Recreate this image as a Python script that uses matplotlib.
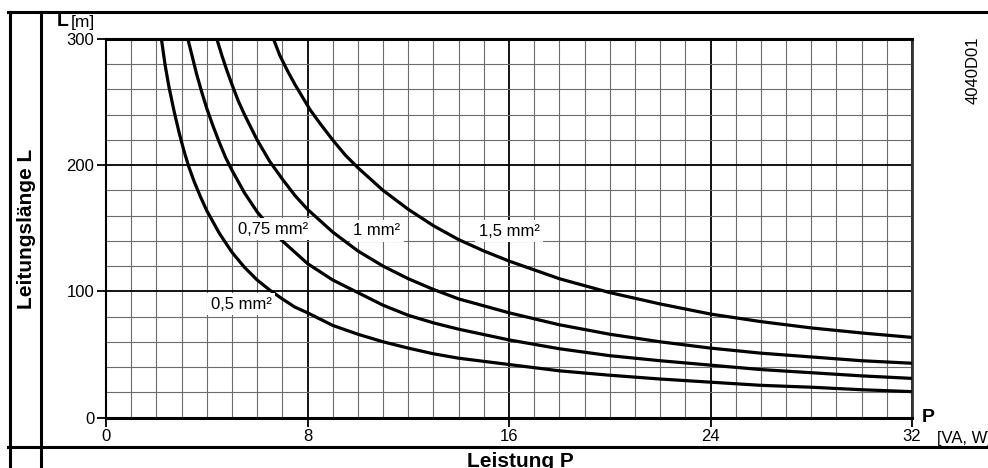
import matplotlib
matplotlib.use('Agg')
import matplotlib.pyplot as plt
from matplotlib.lines import Line2D
from matplotlib.ticker import MultipleLocator

plt.rcParams['font.family'] = ['Liberation Sans', 'DejaVu Sans']

# ---- data ----
p_05 = [2.2, 2.35, 2.5, 2.7, 2.9, 3.1, 3.3, 3.5, 3.75, 4.0, 4.5, 5.0, 5.5, 6.0, 6.5, 7.0,
        7.5, 8, 9, 10, 11, 12, 13, 14, 16, 18, 20, 22, 24, 26, 28, 30, 32]
l_05 = [300, 279, 262, 243, 226, 211, 198, 187, 175, 164, 146, 131, 119, 109, 101, 94,
        87.5, 83, 73, 66, 60, 55, 50.5, 47, 42, 37, 33.5, 30.5, 28, 25.5, 24, 22, 20.5]

p_075 = [3.25, 3.4, 3.6, 3.8, 4.0, 4.25, 4.5, 4.75, 5.0, 5.5, 6.0, 6.5, 7, 7.5, 8, 9, 10,
         11, 12, 13, 14, 16, 18, 20, 22, 24, 26, 28, 30, 32]
l_075 = [300, 288, 272, 258, 245, 231, 218, 206, 196, 178, 163, 151, 140, 131, 122, 109, 99,
         89, 81, 75, 70, 61.5, 54.5, 49, 45, 41.5, 38, 35.5, 33, 31]

p_1 = [4.4, 4.6, 4.8, 5.0, 5.25, 5.5, 5.75, 6.0, 6.5, 7, 7.5, 8, 9, 10, 11, 12, 13, 14,
       16, 18, 20, 22, 24, 26, 28, 30, 32]
l_1 = [300, 287, 275, 264, 251, 240, 230, 220, 203, 189, 176, 165, 147, 132, 120, 110, 101.5, 94,
       83, 73.5, 66, 60, 55, 51, 48, 45, 43]

p_15 = [6.65, 6.9, 7.2, 7.5, 7.8, 8.1, 8.5, 9, 9.5, 10, 11, 12, 13, 14, 15, 16, 18, 20,
        22, 24, 26, 28, 30, 32]
l_15 = [300, 287, 275, 264, 254, 244, 233, 220, 208, 198, 180, 165, 152, 141, 132, 124, 110, 99,
        90, 82, 76, 71, 67, 63.5]

curve_labels = ['0,5 mm²', '0,75 mm²', '1 mm²', '1,5 mm²']
label_p = [5.37, 6.65, 10.75, 16.0]
label_l = [89.6, 149.4, 148.0, 147.8]

x_ticks = [0, 8, 16, 24, 32]
x_ticklabels = ['0', '8', '16', '24', '32']
y_ticks = [0, 100, 200, 300]
y_ticklabels = ['0', '100', '200', '300']

W, H = 988, 468
fig = plt.figure(figsize=(W / 100, H / 100), dpi=100)


def fx(px):
    return px / W


def fy(py):
    return 1 - py / H


ax = fig.add_axes([fx(106), fy(417.5), fx(912) - fx(106), fy(39) - fy(417.5)])
ax.set_xlim(0, 32)
ax.set_ylim(0, 300)

# grid
ax.xaxis.set_minor_locator(MultipleLocator(1))
ax.yaxis.set_minor_locator(MultipleLocator(20))
ax.grid(which='minor', color='#6c6c6c', lw=0.8, zorder=0)
ax.grid(which='major', color='black', lw=1.3, zorder=0)
ax.set_axisbelow(True)
ax.tick_params(which='minor', length=0)

ax.set_xticks(x_ticks)
ax.set_xticklabels(x_ticklabels)
ax.set_yticks(y_ticks)
ax.set_yticklabels(y_ticklabels)
ax.tick_params(axis='x', which='major', direction='out', length=6.5, width=1.3,
               labelsize=12, pad=1.5)
ax.tick_params(axis='y', which='major', direction='out', length=6.5, width=1.3,
               labelsize=12, pad=2)

for side, lw, col in [('left', 1.5, 'black'), ('bottom', 2.2, 'black'),
                      ('top', 2.2, 'black'), ('right', 2.0, '#333333')]:
    ax.spines[side].set_linewidth(lw)
    ax.spines[side].set_color(col)

# curves
for p, l in [(p_05, l_05), (p_075, l_075), (p_1, l_1), (p_15, l_15)]:
    ax.plot(p, l, color='black', lw=2.3, solid_capstyle='butt', solid_joinstyle='round', zorder=3)

for txt, p, l in zip(curve_labels, label_p, label_l):
    ax.text(p, l, txt, fontsize=12, ha='center', va='center', zorder=5,
            bbox=dict(facecolor='white', edgecolor='none', pad=2.5))

# outer frame lines
frame_kw = dict(color='black', lw=2.2, transform=fig.transFigure)
fig.add_artist(Line2D([fx(8), fx(W)], [fy(12), fy(12)], **frame_kw))
fig.add_artist(Line2D([fx(8), fx(W)], [fy(446.5), fy(446.5)], **frame_kw))
fig.add_artist(Line2D([fx(10), fx(10)], [fy(12), fy(H)], **frame_kw))
fig.add_artist(Line2D([fx(41), fx(41)], [fy(12), fy(H)], **frame_kw))

# texts
fig.text(fx(57), fy(26.5), 'L', fontsize=14, fontweight='bold', ha='left', va='baseline')
fig.text(fx(71), fy(26.5), '[m]', fontsize=12.5, ha='left', va='baseline')
fig.text(fx(27), fy(229), 'Leitungslänge L', fontsize=15, fontweight='bold',
         rotation=90, ha='center', va='center')
fig.text(fx(520), fy(467), 'Leistung P', fontsize=15, fontweight='bold',
         ha='center', va='baseline')
fig.text(fx(922), fy(421.5), 'P', fontsize=14, fontweight='bold', ha='left', va='baseline')
fig.text(fx(937), fy(443), '[VA, W]', fontsize=12, ha='left', va='baseline')
fig.text(fx(973.5), fy(70), '4040D01', fontsize=12, rotation=90, ha='center', va='center')

fig.savefig('out.png', dpi=100)
